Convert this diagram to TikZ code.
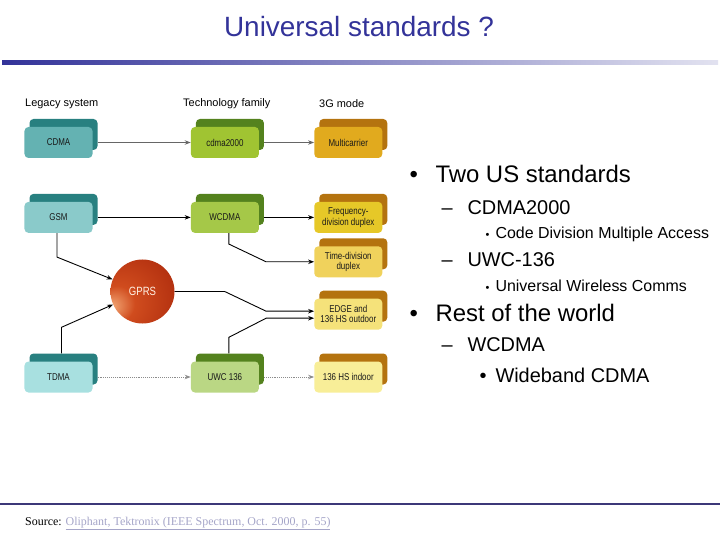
\documentclass[tikz,border=0pt]{standalone}
\usepackage{fontspec}
\setmainfont{Liberation Sans}
\newfontfamily\boxfont[FakeStretch=0.8]{Liberation Sans}
\newfontfamily\srcfont{Liberation Serif}
\usetikzlibrary{positioning,arrows.meta,shadows}

\definecolor{titleblue}{RGB}{51,51,153}
\definecolor{rulelight}{RGB}{226,226,240}
\definecolor{footblue}{RGB}{60,56,120}
\definecolor{linkgray}{RGB}{165,165,200}
\definecolor{tealback}{RGB}{40,128,128}
\definecolor{cdmafill}{RGB}{100,178,178}
\definecolor{gsmfill}{RGB}{138,202,202}
\definecolor{tdmafill}{RGB}{168,224,224}
\definecolor{greenback}{RGB}{84,130,30}
\definecolor{cdmatwofill}{RGB}{160,196,50}
\definecolor{wcdmafill}{RGB}{165,200,72}
\definecolor{uwcfill}{RGB}{186,215,132}
\definecolor{brownback}{RGB}{180,115,15}
\definecolor{multifill}{RGB}{225,170,30}
\definecolor{fddfill}{RGB}{230,200,40}
\definecolor{tddfill}{RGB}{240,210,92}
\definecolor{edgefill}{RGB}{245,226,122}
\definecolor{indoorfill}{RGB}{248,238,152}
\definecolor{ballhi}{RGB}{244,170,120}
\definecolor{ballmid}{RGB}{208,76,30}
\definecolor{balldark}{RGB}{168,38,10}
\pgfdeclareradialshading{gprsball}{\pgfpoint{-25bp}{-12bp}}{color(0bp)=(ballhi); color(14bp)=(ballmid); color(48bp)=(balldark); color(70bp)=(balldark)}

\tikzset{
  box/.style={rounded corners=4bp, minimum width=68bp, minimum height=31bp, inner sep=1bp,
    align=center, text=black!90, font=\boxfont\fontsize{10}{10.5}\selectfont},
  legacybox/.style={box, fill=#1, copy shadow={shadow xshift=5bp, shadow yshift=8bp, fill=tealback, draw=none}},
  techbox/.style={box, fill=#1, copy shadow={shadow xshift=5bp, shadow yshift=8bp, fill=greenback, draw=none}},
  modebox/.style={box, fill=#1, copy shadow={shadow xshift=5bp, shadow yshift=8bp, fill=brownback, draw=none}},
  head/.style={anchor=west, inner sep=0pt, text=black, font=\fontsize{11}{13}\selectfont},
  link/.style={line width=0.9bp, -{Stealth[length=6bp,width=4.5bp]}},
  grey link/.style={link, draw=black!60},
  dot link/.style={link, draw=black!45, densely dotted},
  lvlone/.style={anchor=base west, font=\fontsize{24}{28}\selectfont},
  lvltwo/.style={anchor=base west, font=\fontsize{20}{24}\selectfont},
  lvlthree/.style={anchor=base west, font=\fontsize{16}{19}\selectfont}
}

\begin{document}
\begin{tikzpicture}[x=1bp, y=-1bp, node distance=55bp]
  \useasboundingbox (0,0) rectangle (720,540);

  % title and rules
  \node[anchor=base, text=titleblue, font=\fontsize{28}{32}\selectfont] (title) at (359,37) {Universal standards ?};
  \shade[left color=titleblue, right color=rulelight] (2,60.5) rectangle (718,64.5);
  \draw[footblue, line width=1.2bp] (0,504) -- (720,504);

  % column heads
  \node[head] (hlegacy) at (25,104) {Legacy system};
  \node[head] (htech) at (183,104) {Technology family};
  \node[head] (hmode) at (319,104) {3G mode};

  % legacy systems
  \node[legacybox=cdmafill] (cdma) at (58.5,142.5) {CDMA};
  \node[legacybox=gsmfill, below=43.5bp of cdma] (gsm) {GSM};
  \node[legacybox=tdmafill] (tdma) at (58.5,377) {TDMA};

  % technology families
  \node[techbox=cdmatwofill, right=98bp of cdma] (cdmatwo) {cdma2000};
  \node[techbox=wcdmafill, right=98bp of gsm] (wcdma) {WCDMA};
  \node[techbox=uwcfill, right=98bp of tdma] (uwc) {UWC 136};
  \node[circle, minimum size=64bp, inner sep=0pt, shading=gprsball, text=white!90!orange,
    font=\boxfont\fontsize{12}{12}\selectfont] (gprs) at (142.5,291.5) {GPRS};

  % 3G modes
  \node[modebox=multifill, right=of cdmatwo] (multi) {Multicarrier};
  \node[modebox=fddfill, right=of wcdma] (fdd) {Frequency-\\division duplex};
  \node[modebox=tddfill, below=13bp of fdd] (tdd) {Time-division\\duplex};
  \node[modebox=edgefill, below=21bp of tdd] (edge) {EDGE and\\136 HS outdoor};
  \node[modebox=indoorfill, right=of uwc] (indoor) {136 HS indoor};

  % connectors
  \draw[grey link] ([xshift=5bp]cdma.east) -- (cdmatwo);
  \draw[grey link] ([xshift=5bp]cdmatwo.east) -- (multi);
  \draw[link] ([xshift=5bp]gsm.east) -- (wcdma);
  \draw[link] ([xshift=5bp]wcdma.east) -- (fdd);
  \draw[link] ([xshift=4bp]wcdma.south) -- ++(0,11) -- ([xshift=-48bp]tdd.west) -- (tdd.west);
  \draw[link] ([xshift=-1.5bp]gsm.south) -- ++(0,24) -- (gprs);
  \draw[link] ([xshift=3bp,yshift=8bp]tdma.north) -- ++(0,-26) -- (gprs);
  \draw[link] (gprs.east) -- ++(50,0) -- ([xshift=-48bp,yshift=3bp]edge.west) -- ([yshift=3bp]edge.west);
  \draw[link] ([xshift=4bp,yshift=8bp]uwc.north) -- ++(0,-16) -- ([xshift=-48bp,yshift=-4bp]edge.west) -- ([yshift=-4bp]edge.west);
  \draw[dot link] ([xshift=5bp]tdma.east) -- (uwc);
  \draw[dot link] ([xshift=5bp]uwc.east) -- (indoor);

  % bullets
  \node[lvlone] (usa) at (406,183) {\makebox[26bp][l]{•}Two US standards};
  \node[lvltwo] (cdmatext) at (438,215) {\makebox[26bp][l]{–}CDMA2000};
  \node[lvlthree] (cdmanote) at (482,239) {\makebox[10bp][l]{\fontsize{11}{11}\selectfont•}Code Division Multiple Access};
  \node[lvltwo] (uwctext) at (438,267) {\makebox[26bp][l]{–}UWC-136};
  \node[lvlthree] (uwcnote) at (482,291) {\makebox[10bp][l]{\fontsize{11}{11}\selectfont•}Universal Wireless Comms};
  \node[lvlone] (world) at (406,321) {\makebox[26bp][l]{•}Rest of the world};
  \node[lvltwo] (wcdmatext) at (438,351) {\makebox[26bp][l]{–}WCDMA};
  \node[lvltwo] (wcdmanote) at (476,382) {\makebox[16bp][l]{•}Wideband CDMA};

  % source
  \node[anchor=base west, inner sep=0pt, font=\srcfont\fontsize{12}{14}\selectfont] (source) at (25,525)
    {Source: \textcolor{linkgray}{\underline{Oliphant, Tektronix (IEEE Spectrum, Oct. 2000, p. 55)}}};
\end{tikzpicture}
\end{document}
